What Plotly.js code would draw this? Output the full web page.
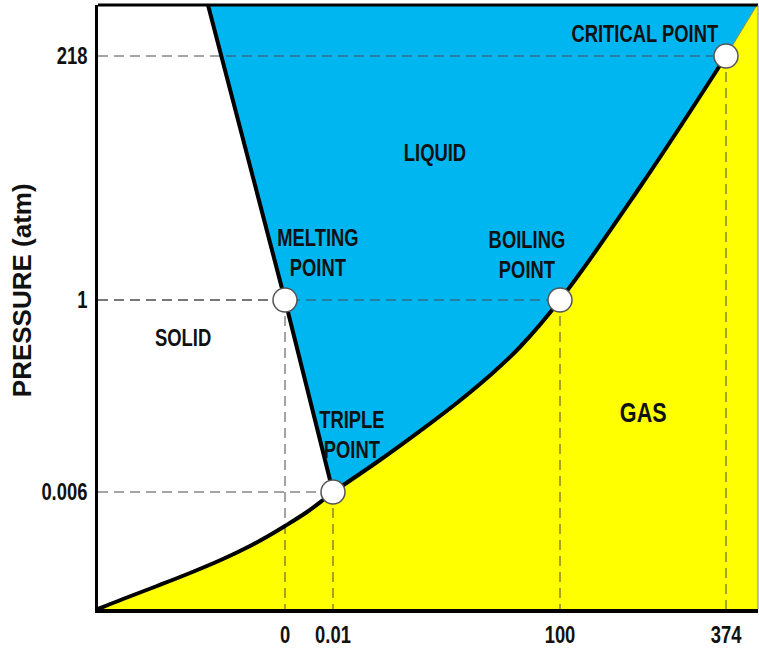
<!DOCTYPE html>
<html>
<head>
<meta charset="utf-8">
<script src="https://cdn.plot.ly/plotly-3.0.1.min.js"></script>
<style>
html,body{margin:0;padding:0;background:#fff;}
#chart{width:759px;height:655px;}
#chart g.xtick{transform-box:fill-box;transform-origin:center;transform:scaleX(0.8);}
#chart g.ytick{transform-box:fill-box;transform-origin:right center;transform:scaleX(0.8);}
</style>
</head>
<body>
<div id="chart"></div>
<script>
// Schematic phase diagram of water (positions on a schematic, non-linear scale)
const xTickVals = [187, 235, 462, 628];
const xTickText = ['0', '0.01', '100', '374'];
const yTickVals = [117, 309, 553];
const yTickText = ['0.006', '1', '218'];
const yTitle = 'PRESSURE (atm)';

// Sublimation curve (solid / gas)
const sublimT = [0, 25, 59, 92, 125, 152, 172, 187, 209, 225, 235];
const sublimP = [0, 10, 23, 36, 50, 63, 74, 83, 97, 109, 117];
// Vaporization curve (liquid / gas), triple point -> critical point
const vapT = [235, 282, 322, 355, 389, 422, 462, 542, 628];
const vapP = [117, 149, 178, 203, 231, 262, 309, 422, 553];
// Fusion line (solid / liquid), top edge -> triple point
const fusT = [110, 187, 235];
const fusP = [604, 309, 117];
// Supercritical boundary continuation
const superT = [628, 659];
const superP = [553, 604];

// Special points
const pointNames = ['MELTING POINT', 'TRIPLE POINT', 'BOILING POINT', 'CRITICAL POINT'];
const pointT = [187, 235, 462, 628];
const pointP = [309, 117, 309, 553];

// Region labels
const labelText = ['SOLID', 'LIQUID', 'GAS', 'MELTING<br>POINT', 'BOILING<br>POINT', 'TRIPLE<br>POINT', 'CRITICAL POINT'];
const labelT = [85, 337, 545, 220, 429, 254, 547];
const labelP = [271, 456, 196, 356, 354, 174, 575];

const X_MAX = 660, Y_MAX = 604;

// Build fill polygons from the curves
const liquidX = [].concat(fusT, vapT.slice(1), superT.slice(1), [fusT[0]]);
const liquidY = [].concat(fusP, vapP.slice(1), superP.slice(1), [fusP[0]]);
const gasX = [].concat(sublimT, vapT.slice(1), superT.slice(1), [X_MAX, X_MAX, 0]);
const gasY = [].concat(sublimP, vapP.slice(1), superP.slice(1), [Y_MAX, 0, 0]);

// Dashed guides from each point to the axes
const guideX = [], guideY = [];
for (let i = 0; i < pointT.length; i++) {
  guideX.push(0, pointT[i], null, pointT[i], pointT[i], null);
  guideY.push(pointP[i], pointP[i], null, pointP[i], 0, null);
}

const FONT = 'Liberation Sans, Arial, sans-serif';

const traces = [
  {x: gasX, y: gasY, mode: 'lines', fill: 'toself', fillcolor: '#FFFF00', line: {width: 0}, hoverinfo: 'skip'},
  {x: liquidX, y: liquidY, mode: 'lines', fill: 'toself', fillcolor: '#00B6F0', line: {width: 0}, hoverinfo: 'skip'},
  {x: guideX, y: guideY, mode: 'lines', line: {color: '#4a4a4a', width: 1, dash: '10px,6px'}, hoverinfo: 'skip'},
  {x: superT, y: superP, mode: 'lines', line: {color: '#8a8a5a', width: 1}},
  {x: sublimT, y: sublimP, mode: 'lines', line: {color: '#000', width: 4, shape: 'spline', smoothing: 1}},
  {x: vapT, y: vapP, mode: 'lines', line: {color: '#000', width: 4, shape: 'spline', smoothing: 1.2}},
  {x: fusT, y: fusP, mode: 'lines', line: {color: '#000', width: 4}},
  {x: pointT, y: pointP, text: pointNames, mode: 'markers',
   marker: {size: 24, color: '#fff', line: {color: '#555', width: 1.5}}}
];

const annotations = labelText.map((t, i) => ({
  x: labelT[i], y: labelP[i], xref: 'x', yref: 'y', text: t, showarrow: false,
  font: {family: FONT, size: (t === 'GAS' ? 27 : 23), color: '#111', weight: 'bold'}
}));
// Y-axis title, placed as in the reference (slightly above the axis centre)
annotations.push({
  x: -0.115, y: 0.528, xref: 'paper', yref: 'paper', xanchor: 'center', yanchor: 'middle',
  text: yTitle, textangle: -90, showarrow: false,
  font: {family: FONT, size: 26, color: '#111', weight: 'bold'}
});

const layout = {
  width: 759, height: 655,
  margin: {l: 98, r: 1, t: 5, b: 46},
  paper_bgcolor: '#fff', plot_bgcolor: '#fff',
  showlegend: false,
  xaxis: {
    range: [0, X_MAX], tickvals: xTickVals, ticktext: xTickText,
    showgrid: false, zeroline: false, showline: true, linecolor: '#000', linewidth: 4,
    ticks: '', ticklabelstandoff: 2,
    tickfont: {family: FONT, size: 23, color: '#111', weight: 'bold'}
  },
  yaxis: {
    range: [0, Y_MAX], tickvals: yTickVals, ticktext: yTickText,
    showgrid: false, zeroline: false, showline: true, linecolor: '#000', linewidth: 3,
    ticks: '', ticklabelstandoff: 3,
    tickfont: {family: FONT, size: 23, color: '#111', weight: 'bold'}
  },
  shapes: [
    {type: 'line', xref: 'paper', yref: 'paper', x0: 0, x1: 1, y0: 1, y1: 1, line: {color: '#000', width: 3}},
    {type: 'line', xref: 'paper', yref: 'paper', x0: 1, x1: 1, y0: 0, y1: 1, line: {color: '#888', width: 1}}
  ],
  annotations: annotations
};

Plotly.newPlot('chart', traces, layout, {staticPlot: true, displayModeBar: false}).then(() => {
  // Condense the region/point labels horizontally (narrow bold face in the reference)
  document.querySelectorAll('#chart .annotation-text').forEach(el => {
    if (el.textContent.indexOf('PRESSURE') === -1) {
      el.style.transformBox = 'fill-box';
      el.style.transformOrigin = 'center';
      el.style.transform = 'scaleX(0.8)';
    }
  });
});
</script>
</body>
</html>
